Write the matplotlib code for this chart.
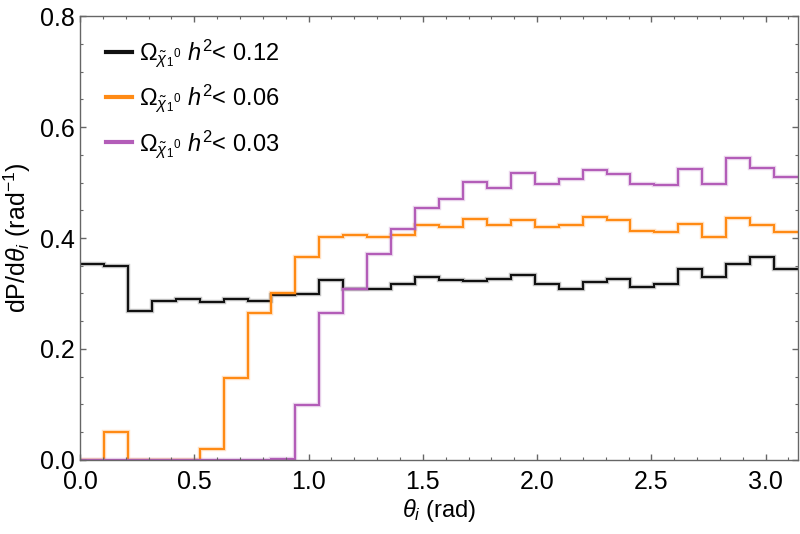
import numpy as np
import matplotlib.pyplot as plt
import matplotlib.patheffects as pe
from matplotlib.ticker import MultipleLocator

plt.rcParams['font.family'] = ['Liberation Sans', 'DejaVu Sans']
plt.rcParams['mathtext.fontset'] = 'custom'
plt.rcParams['mathtext.rm'] = 'Liberation Sans'
plt.rcParams['mathtext.it'] = 'Liberation Sans:italic'
plt.rcParams['mathtext.bf'] = 'Liberation Sans:bold'

# histogram values, 30 bins over [0, pi]
n_bins = 30
black_vals = [0.354, 0.349, 0.269, 0.287, 0.290, 0.284, 0.290, 0.287, 0.298, 0.299,
              0.324, 0.308, 0.308, 0.318, 0.329, 0.324, 0.322, 0.327, 0.333, 0.317,
              0.309, 0.320, 0.326, 0.311, 0.318, 0.344, 0.330, 0.354, 0.365, 0.344]
orange_vals = [0.0, 0.051, 0.0, 0.0, 0.0, 0.019, 0.148, 0.265, 0.301, 0.365,
               0.401, 0.405, 0.401, 0.405, 0.423, 0.420, 0.434, 0.424, 0.433, 0.420,
               0.424, 0.438, 0.432, 0.412, 0.410, 0.426, 0.401, 0.436, 0.424, 0.411]
purple_vals = [0.0, 0.0, 0.0, 0.0, 0.0, 0.0, 0.0, 0.0, 0.002, 0.099,
               0.265, 0.308, 0.371, 0.417, 0.454, 0.471, 0.501, 0.490, 0.517, 0.498,
               0.506, 0.523, 0.515, 0.498, 0.496, 0.524, 0.498, 0.544, 0.527, 0.510]
labels = [r'$\Omega_{\tilde{\chi}_1{}^{0}}\ h^2$< 0.12',
          r'$\Omega_{\tilde{\chi}_1{}^{0}}\ h^2$< 0.06',
          r'$\Omega_{\tilde{\chi}_1{}^{0}}\ h^2$< 0.03']
colors = ['#111111', '#ff8a14', '#b35db8']

edges = np.linspace(0, np.pi, n_bins + 1)

fig = plt.figure(figsize=(8, 5.34), dpi=100)
ax = fig.add_axes([0.1, 0.1386, 0.8975, 0.8314])

for vals, col, lab in zip([black_vals, orange_vals, purple_vals], colors, labels):
    ax.stairs(vals, edges, color=col, lw=1.5, baseline=None, label=lab,
              path_effects=[pe.Stroke(linewidth=3.2, foreground=col, alpha=0.25), pe.Normal()])

ax.set_xlim(0, np.pi)
ax.set_ylim(0, 0.8)
ax.xaxis.set_major_locator(MultipleLocator(0.5))
ax.xaxis.set_minor_locator(MultipleLocator(0.1))
ax.yaxis.set_major_locator(MultipleLocator(0.2))
ax.yaxis.set_minor_locator(MultipleLocator(0.05))
ax.xaxis.set_major_formatter(plt.FormatStrFormatter('%.1f'))
ax.yaxis.set_major_formatter(plt.FormatStrFormatter('%.1f'))
ax.tick_params(which='both', direction='in', top=True, right=True, color='#666666',
               labelsize=18, labelcolor='black')
ax.tick_params(which='major', length=4, width=1)
ax.tick_params(which='minor', length=2.2, width=0.8)
ax.tick_params(axis='x', pad=7)
ax.tick_params(axis='y', pad=4)
for s in ax.spines.values():
    s.set_color('#666666')
    s.set_linewidth(1)

ax.set_xlabel(r'$\theta_i$ (rad)', fontsize=17)
ax.set_ylabel(r'dP/d$\theta_i$ (rad$^{-1}$)', fontsize=18)
ax.xaxis.set_label_coords(0.5, -0.084)
ax.yaxis.set_label_coords(-0.066, 0.5)

leg = ax.legend(loc='upper left', frameon=False, fontsize=17, handlelength=1.1,
                handletextpad=0.3, labelspacing=0.58, borderpad=0, borderaxespad=0,
                bbox_to_anchor=(0.036, 0.952))
for h in leg.legend_handles:
    h.set_linewidth(3)
    h.set_path_effects([])

fig.savefig('out.png', dpi=100)
